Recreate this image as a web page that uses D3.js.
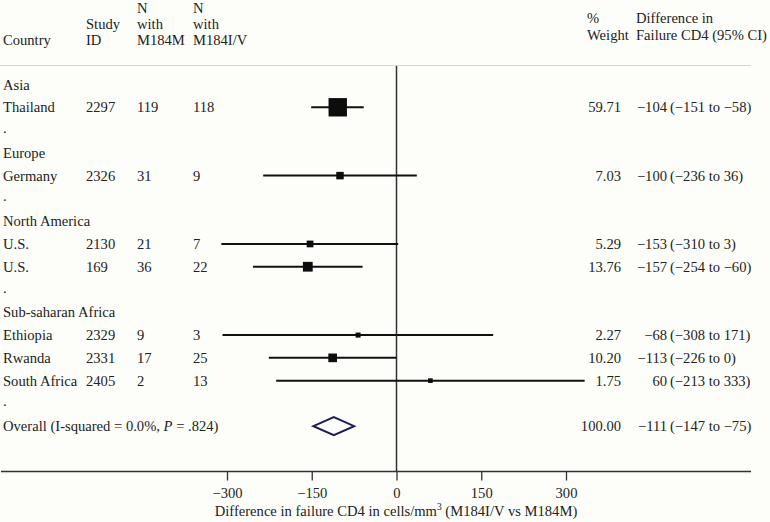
<!DOCTYPE html>
<html>
<head>
<meta charset="utf-8">
<script src="https://cdn.jsdelivr.net/npm/d3@7"></script>
<style>
  html, body { margin: 0; padding: 0; background: #fdfefa; }
  svg { display: block; }
  text { font-family: "Liberation Serif", "Times New Roman", serif; font-size: 14.6px; fill: #222; }
</style>
</head>
<body>
<div id="chart"></div>
<script>
// ---- data ----
const regions = ["Asia", "Europe", "North America", "Sub-saharan Africa"];
const studyRegion = ["Asia", "Europe", "North America", "North America", "Sub-saharan Africa", "Sub-saharan Africa", "Sub-saharan Africa"];
const countries = ["Thailand", "Germany", "U.S.", "U.S.", "Ethiopia", "Rwanda", "South Africa"];
const studyIds = ["2297", "2326", "2130", "169", "2329", "2331", "2405"];
const nM184M = [119, 31, 21, 36, 9, 17, 2];
const nM184IV = [118, 9, 7, 22, 3, 25, 13];
const weights = [59.71, 7.03, 5.29, 13.76, 2.27, 10.20, 1.75];
const estimates = [-104, -100, -153, -157, -68, -113, 60];
const lowerCI = [-151, -236, -310, -254, -308, -226, -213];
const upperCI = [-58, 36, 3, -60, 171, 0, 333];
const overallEstimate = -111, overallLower = -147, overallUpper = -75, overallWeight = 100;
const xTicks = [-300, -150, 0, 150, 300];

// ---- layout rows ----
const rows = [];
regions.forEach(r => {
  rows.push({type: "region", label: r});
  studyRegion.forEach((sr, i) => { if (sr === r) rows.push({type: "study", i}); });
  rows.push({type: "dot"});
});
rows.push({type: "overall"});

const W = 770, H = 522;
const svg = d3.select("#chart").append("svg").attr("width", W).attr("height", H);
svg.append("rect").attr("width", W).attr("height", H).attr("fill", "#fdfefa");

const x = d3.scaleLinear().domain([-300, 300]).range([227, 566]);
const y = d3.scaleLinear().domain([0, rows.length - 1]).range([84.5, 426.2]);
const boxSize = d3.scaleSqrt().domain([0, 59.71]).range([0, 16.6]);

const fmt = v => String(v).replace("-", "\u2212");
const col = {country: 3, id: 86, n1: 137, n2: 193, weight: 621, est: 667, ci: 670};

// top light rule
svg.append("line").attr("x1", 0).attr("x2", 751).attr("y1", 65.5).attr("y2", 65.5)
  .attr("stroke", "#d4d6d0").attr("stroke-width", 1);

// headers
const hdr = (t, xx, yy, anchor) => svg.append("text").attr("x", xx).attr("y", yy)
  .attr("text-anchor", anchor || "start").text(t);
hdr("Country", col.country, 45);
hdr("Study", col.id, 29); hdr("ID", col.id, 45);
hdr("N", col.n1, 13); hdr("with", col.n1, 29); hdr("M184M", col.n1, 45);
hdr("N", col.n2, 13); hdr("with", col.n2, 29); hdr("M184I/V", col.n2, 45);
hdr("%", 587, 23); hdr("Weight", 587, 40);
hdr("Difference in", 636, 23); hdr("Failure CD4 (95% CI)", 636, 40);

// zero line
svg.append("line").attr("x1", x(0)).attr("x2", x(0)).attr("y1", 66).attr("y2", 471)
  .attr("stroke", "#333").attr("stroke-width", 1.5);

// rows
rows.forEach((r, k) => {
  const yy = y(k);
  const g = svg.append("g");
  if (r.type === "region") {
    g.append("text").attr("x", col.country).attr("y", yy + 5).text(r.label);
  } else if (r.type === "dot") {
    g.append("text").attr("x", col.country).attr("y", yy + 3).text(".");
  } else if (r.type === "study") {
    const i = r.i;
    g.append("text").attr("x", col.country).attr("y", yy + 5).text(countries[i]);
    g.append("text").attr("x", col.id).attr("y", yy + 5).text(studyIds[i]);
    g.append("text").attr("x", col.n1).attr("y", yy + 5).text(nM184M[i]);
    g.append("text").attr("x", col.n2).attr("y", yy + 5).text(nM184IV[i]);
    g.append("text").attr("x", col.weight).attr("y", yy + 5).attr("text-anchor", "end").text(weights[i].toFixed(2));
    g.append("text").attr("x", col.est).attr("y", yy + 5).attr("text-anchor", "end").text(fmt(estimates[i]));
    g.append("text").attr("x", col.ci).attr("y", yy + 5).text("(" + fmt(lowerCI[i]) + " to " + fmt(upperCI[i]) + ")");
    g.append("line").attr("x1", x(lowerCI[i])).attr("x2", x(upperCI[i])).attr("y1", yy).attr("y2", yy)
      .attr("stroke", "#111").attr("stroke-width", 2);
    const s = 1.8 + boxSize(weights[i]);
    g.append("rect").attr("x", x(estimates[i]) - s / 2).attr("y", yy - s / 2)
      .attr("width", s).attr("height", s).attr("fill", "#0d0d0d");
  } else if (r.type === "overall") {
    const t = g.append("text").attr("x", col.country).attr("y", yy + 5);
    t.append("tspan").text("Overall (I-squared = 0.0%, ");
    t.append("tspan").attr("font-style", "italic").text("P");
    t.append("tspan").text(" = .824)");
    g.append("text").attr("x", col.weight).attr("y", yy + 5).attr("text-anchor", "end").text(overallWeight.toFixed(2));
    g.append("text").attr("x", col.est).attr("y", yy + 5).attr("text-anchor", "end").text(fmt(overallEstimate));
    g.append("text").attr("x", col.ci).attr("y", yy + 5).text("(" + fmt(overallLower) + " to " + fmt(overallUpper) + ")");
    const h = 9;
    const pts = [[x(overallLower), yy], [x(overallEstimate), yy - h], [x(overallUpper), yy], [x(overallEstimate), yy + h]];
    g.append("path").attr("d", d3.line()(pts) + "Z").attr("fill", "none")
      .attr("stroke", "#1c1c5a").attr("stroke-width", 2);
  }
});

// x axis
const axisY = 471.5;
const axis = d3.axisBottom(x).tickValues(xTicks).tickSize(9).tickPadding(7)
  .tickFormat(d => fmt(d));
const ag = svg.append("g").attr("transform", `translate(0,${axisY})`).call(axis);
ag.select(".domain").remove();
ag.selectAll(".tick line").attr("stroke", "#333").attr("stroke-width", 1.3);
ag.selectAll(".tick text").attr("font-family", null).attr("font-size", null).attr("fill", "#222")
  .style("font-family", "'Liberation Serif', serif").style("font-size", "14.6px");
svg.append("line").attr("x1", 1).attr("x2", 751).attr("y1", axisY).attr("y2", axisY)
  .attr("stroke", "#333").attr("stroke-width", 1.6);

// axis title
const tt = svg.append("text").attr("x", 396).attr("y", 516).attr("text-anchor", "middle");
tt.append("tspan").text("Difference in failure CD4 in cells/mm");
tt.append("tspan").attr("dy", -6).attr("font-size", "9.5px").text("3");
tt.append("tspan").attr("dy", 6).text(" (M184I/V vs M184M)");
</script>
</body>
</html>
